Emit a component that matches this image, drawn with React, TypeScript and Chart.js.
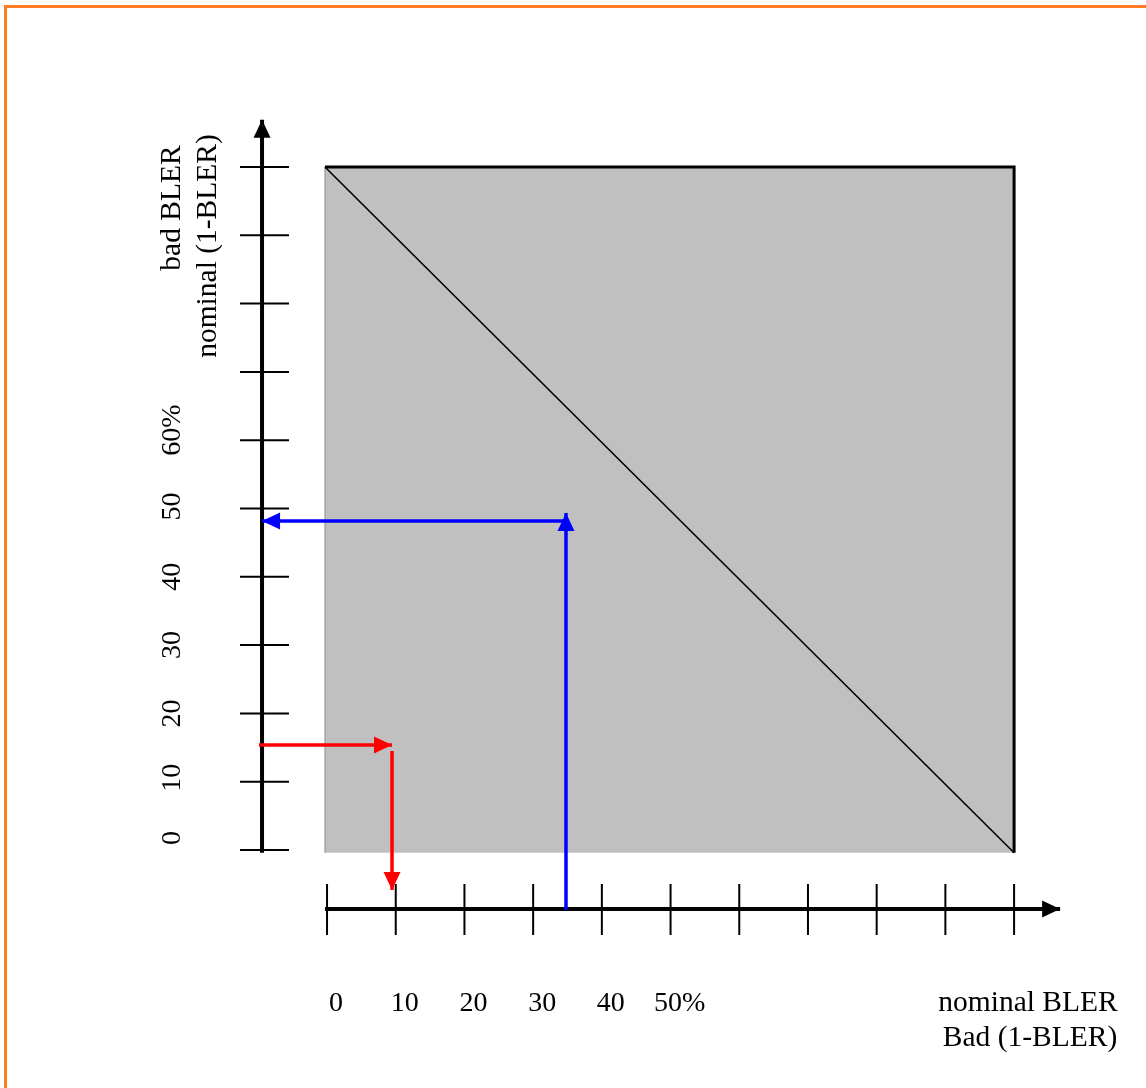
import React, { useEffect, useRef } from 'react';
import { Chart, registerables } from 'chart.js';

Chart.register(...registerables);

// ---- data ----
const xTickValues = [0, 10, 20, 30, 40, 50, 60, 70, 80, 90, 100];
const yTickValues = [0, 10, 20, 30, 40, 50, 60, 70, 80, 90, 100];
const xTickLabels = ['0', '10', '20', '30', '40', '50%'];
const yTickLabels = ['0', '10', '20', '30', '40', '50', '60%'];
const xAxisTitle = ['nominal BLER', 'Bad (1-BLER)'];
const yAxisTitle = ['bad BLER', 'nominal (1-BLER)'];

const squareX = [-0.3, -0.3, 100, 100];
const squareY = [-0.4, 100, 100, -0.4];
const squareEdgeX = [-0.3, 100, 100];
const squareEdgeY = [100, 100, -0.4];
const squareLeftX = [-0.3, -0.3];
const squareLeftY = [-0.4, 100];
const diagonalX = [-0.3, 100];
const diagonalY = [100, -0.4];

const yAxisX = [-9.46, -9.46];
const yAxisY = [-0.4, 106.9];
const xAxisX = [-0.3, 106.7];
const xAxisY = [-8.64, -8.64];
const yTickSpan = [-12.67, -5.54];
const xTickSpan = [-4.99, -12.45];

const redHX = [-9.9, 9.46];
const redHY = [15.37, 15.37];
const redVX = [9.46, 9.46];
const redVY = [14.49, -5.86];
const blueVX = [34.78, 34.78];
const blueVY = [-8.8, 49.34];
const blueHX = [34.78, -9.46];
const blueHY = [48.17, 48.17];

// ---- layout ----
const W = 1146;
const H = 1088;
const X_MIN = -47.6;
const X_MAX = 119.2;
const Y_MIN = -34.85;
const Y_MAX = 124.45;
const FONT = '"Liberation Serif", "Times New Roman", serif';
const yLabelNudge = [-12, -4, 0, 0, 0, -2, -10];

const pts = (xs: number[], ys: number[]) => xs.map((x, i) => ({ x, y: ys[i] }));

const line = (xs: number[], ys: number[], color: string, width: number, extra: any = {}) => ({
  data: pts(xs, ys),
  borderColor: color,
  backgroundColor: color,
  borderWidth: width,
  pointRadius: 0,
  fill: false,
  tension: 0,
  borderCapStyle: 'butt',
  ...extra,
});

const arrowPlugin = {
  id: 'arrowHeads',
  afterDatasetsDraw(chart: any) {
    const ctx = chart.ctx;
    chart.data.datasets.forEach((ds: any, i: number) => {
      if (!ds.arrowHead) return;
      const meta = chart.getDatasetMeta(i);
      const n = meta.data.length;
      const a = meta.data[n - 2];
      const b = meta.data[n - 1];
      const dx = b.x - a.x;
      const dy = b.y - a.y;
      const len = Math.hypot(dx, dy) || 1;
      const ux = dx / len;
      const uy = dy / len;
      const L = 18;
      const hw = 8.5;
      const bx = b.x - ux * L;
      const by = b.y - uy * L;
      ctx.save();
      ctx.fillStyle = ds.borderColor;
      ctx.beginPath();
      ctx.moveTo(b.x, b.y);
      ctx.lineTo(bx - uy * hw, by + ux * hw);
      ctx.lineTo(bx + uy * hw, by - ux * hw);
      ctx.closePath();
      ctx.fill();
      ctx.restore();
    });
  },
};

const textPlugin = {
  id: 'texts',
  afterDraw(chart: any) {
    const { ctx } = chart;
    const xs = chart.scales.x;
    const ys = chart.scales.y;
    ctx.save();
    ctx.fillStyle = '#000';
    ctx.textBaseline = 'alphabetic';
    ctx.textAlign = 'center';
    ctx.font = `28px ${FONT}`;
    xTickLabels.forEach((t, i) => {
      ctx.fillText(t, xs.getPixelForValue(xTickValues[i]) + 9, 1011);
    });
    yTickLabels.forEach((t, i) => {
      const py = ys.getPixelForValue(yTickValues[i]) + yLabelNudge[i];
      ctx.save();
      ctx.translate(180, py);
      ctx.rotate(-Math.PI / 2);
      ctx.fillText(t, 0, 0);
      ctx.restore();
    });
    ctx.font = `29.5px ${FONT}`;
    ctx.fillText(xAxisTitle[0], 1028, 1011);
    ctx.fillText(xAxisTitle[1], 1030, 1046);
    ctx.save();
    ctx.translate(180, 208);
    ctx.rotate(-Math.PI / 2);
    ctx.fillText(yAxisTitle[0], 0, 0);
    ctx.restore();
    ctx.save();
    ctx.translate(216, 246);
    ctx.rotate(-Math.PI / 2);
    ctx.fillText(yAxisTitle[1], 0, 0);
    ctx.restore();
    ctx.restore();
  },
};

export default function App() {
  const ref = useRef<HTMLCanvasElement | null>(null);

  useEffect(() => {
    if (!ref.current) return;
    const datasets: any[] = [];
    datasets.push(line(squareX, squareY, 'rgba(0,0,0,0)', 0, { fill: { value: -0.4 }, backgroundColor: '#C0C0C0' }));
    datasets.push(line(squareLeftX, squareLeftY, '#8a8a8a', 1));
    datasets.push(line(squareEdgeX, squareEdgeY, '#000', 3));
    datasets.push(line(diagonalX, diagonalY, '#000', 1.6));
    yTickValues.forEach((v) => datasets.push(line(yTickSpan, [v, v], '#000', 2)));
    xTickValues.forEach((v) => datasets.push(line([v, v], xTickSpan, '#000', 2)));
    datasets.push(line(yAxisX, yAxisY, '#000', 4, { arrowHead: true }));
    datasets.push(line(xAxisX, xAxisY, '#000', 4, { arrowHead: true }));
    datasets.push(line(redHX, redHY, '#FF0000', 3.5, { arrowHead: true }));
    datasets.push(line(redVX, redVY, '#FF0000', 3.5, { arrowHead: true }));
    datasets.push(line(blueVX, blueVY, '#0000FF', 3.5, { arrowHead: true }));
    datasets.push(line(blueHX, blueHY, '#0000FF', 3.5, { arrowHead: true }));
    const n = datasets.length;
    datasets.forEach((d, i) => (d.order = n - i));

    const chart = new Chart(ref.current, {
      type: 'line',
      data: { datasets },
      options: {
        animation: false,
        responsive: false,
        events: [],
        layout: { padding: 0 },
        plugins: { legend: { display: false }, tooltip: { enabled: false } },
        scales: {
          x: { type: 'linear', min: X_MIN, max: X_MAX, display: false },
          y: { type: 'linear', min: Y_MIN, max: Y_MAX, display: false },
        },
      },
      plugins: [arrowPlugin, textPlugin],
    } as any);
    return () => chart.destroy();
  }, []);

  return (
    <div style={{ position: 'absolute', left: 0, top: 0, width: W, height: H, background: '#fff', overflow: 'hidden' }}>
      <div
        style={{
          position: 'absolute',
          left: 4,
          top: 5,
          width: 1300,
          height: 1300,
          border: '3px solid #FF7B24',
          boxSizing: 'border-box',
        }}
      />
      <canvas ref={ref} width={W} height={H} style={{ position: 'absolute', left: 0, top: 0, width: W, height: H }} />
    </div>
  );
}
